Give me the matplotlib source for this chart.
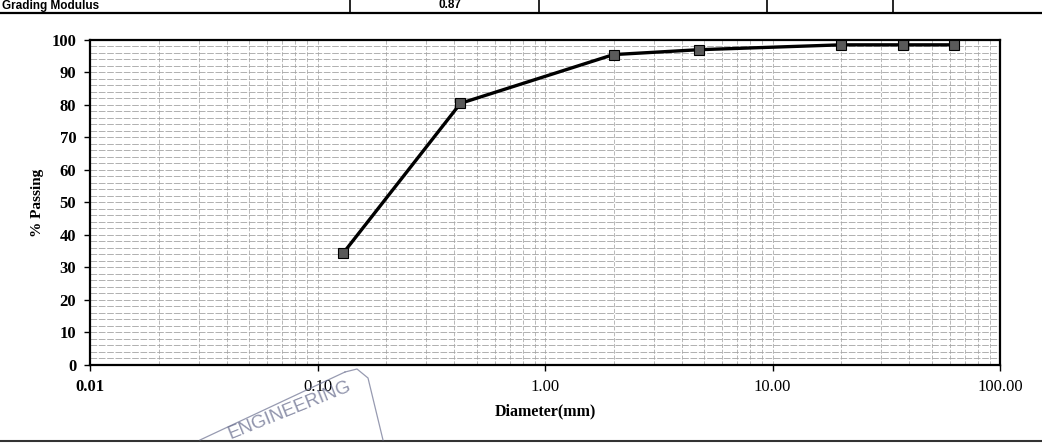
import matplotlib
matplotlib.use("Agg")
import matplotlib.pyplot as plt
from matplotlib.ticker import FixedLocator, FormatStrFormatter, NullFormatter
import numpy as np

# sieve data
diameter_mm = [0.13, 0.425, 2.0, 4.75, 20.0, 37.5, 63.0]
pct_passing = [34.5, 80.5, 95.5, 97.0, 98.5, 98.5, 98.5]

x_ticks = [0.01, 0.1, 1.0, 10.0, 100.0]
y_ticks = [0, 10, 20, 30, 40, 50, 60, 70, 80, 90, 100]

plt.rcParams["font.family"] = ["Liberation Serif", "DejaVu Serif"]

fig = plt.figure(figsize=(10.42, 4.44), dpi=100)
ax = fig.add_axes([0.0864, 0.178, 0.8733, 0.732])

ax.set_xscale("log")
ax.set_xlim(0.01, 100)
ax.set_ylim(0, 100)

# graph-paper grid
minor_x = [m * d for d in [0.01, 0.1, 1, 10] for m in range(2, 10)]
for xv in minor_x + x_ticks:
    ax.axvline(xv, color="#adadad", lw=0.6, ls=(0, (5, 2)), zorder=1)
for yv in np.arange(2, 100, 2):
    ax.axhline(yv, color="#a4a4a4", lw=0.6, ls=(0, (8, 2)), zorder=1)

ax.plot(diameter_mm, pct_passing, color="black", lw=2.4, marker="s",
        markersize=6.5, markerfacecolor="#5a5a5a", markeredgecolor="black",
        markeredgewidth=0.8, zorder=3)

ax.xaxis.set_major_locator(FixedLocator(x_ticks))
ax.xaxis.set_major_formatter(FormatStrFormatter("%.2f"))
ax.xaxis.set_minor_formatter(NullFormatter())
ax.tick_params(axis="x", which="minor", length=0)
ax.set_yticks(y_ticks)
ax.tick_params(axis="both", which="major", labelsize=12, length=4,
               width=1, direction="out", pad=6)
for lbl in ax.get_yticklabels():
    lbl.set_fontweight("bold")
ax.get_xticklabels()[0].set_fontweight("bold")

for s in ax.spines.values():
    s.set_linewidth(1.6)
    s.set_color("black")

ax.set_xlabel("Diameter(mm)", fontsize=11.5, fontweight="bold", labelpad=6)
ax.set_ylabel("% Passing", fontsize=11, fontweight="bold", labelpad=5)

# table row at the top of the scanned page
line_y = 1 - 13 / 444
fig.add_artist(plt.Line2D([0, 1], [line_y, line_y],
                          transform=fig.transFigure, color="black", lw=1.6))
for xp in [350, 539, 767, 893]:
    fig.add_artist(plt.Line2D([xp / 1042, xp / 1042], [line_y, 1],
                              transform=fig.transFigure, color="black", lw=1.2))
fig.text(2 / 1042, line_y + 1.5 / 444, "Grading Modulus", fontsize=8.5,
         fontweight="bold", family=["Liberation Sans", "DejaVu Sans"],
         va="bottom", ha="left")
fig.text(450 / 1042, line_y + 1.5 / 444, "0.87", fontsize=8.5,
         fontweight="bold", family=["Liberation Sans", "DejaVu Sans"],
         va="bottom", ha="center")

# bottom page line
fig.add_artist(plt.Line2D([0, 1], [3 / 444, 3 / 444],
                          transform=fig.transFigure, color="#333333", lw=1.5))

# faint stamp
stamp = "#6b7090"
fig.text(290 / 1042, 1 - 410 / 444, "ENGINEERING", fontsize=13.5, color=stamp,
         rotation=22, ha="center", va="center",
         family=["Liberation Sans", "DejaVu Sans"], alpha=0.75)
fig.add_artist(plt.Line2D([200 / 1042, 345 / 1042],
                          [1 - 440 / 444, 1 - 372 / 444],
                          transform=fig.transFigure, color=stamp, lw=0.9,
                          alpha=0.7))
fig.add_artist(plt.Line2D([345 / 1042, 357 / 1042, 368 / 1042, 383 / 1042],
                          [1 - 372 / 444, 1 - 369 / 444, 1 - 378 / 444,
                           1 - 440 / 444],
                          transform=fig.transFigure, color=stamp, lw=0.9,
                          alpha=0.7))

fig.savefig("out.png", dpi=100, facecolor="white")
